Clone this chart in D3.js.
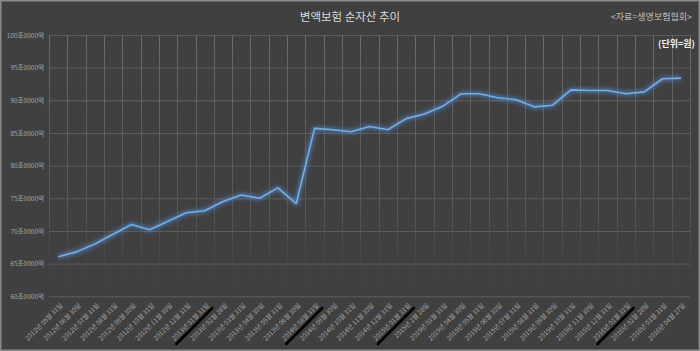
<!DOCTYPE html>
<html><head><meta charset="utf-8">
<script src="https://cdn.jsdelivr.net/npm/d3@7"></script>
<style>
html,body{margin:0;padding:0;background:#404040;}
svg{display:block;}
text{font-family:"Noto Sans CJK KR","Noto Sans",sans-serif;}
</style></head>
<body>
<svg id="c" width="700" height="351"></svg>
<script>
const categories = [
"2012년 05월 31일","2012년 06월 30일","2012년 07월 31일","2012년 08월 31일","2012년 09월 30일","2012년 10월 31일","2012년 11월 30일","2012년 12월 31일",
"2013년 01월 31일","2013년 02월 28일","2013년 03월 31일","2013년 04월 30일","2013년 05월 31일","2013년 06월 30일",
"2014년 08월 31일","2014년 09월 30일","2014년 10월 31일","2014년 11월 30일","2014년 12월 31일",
"2015년 01월 31일","2015년 2월 28일","2015년 03월 31일","2015년 04월 30일","2015년 05월 31일","2015년 06월 30일","2015년 07월 31일","2015년 08월 31일","2015년 09월 30일","2015년 10월 31일","2015년 11월 30일","2015년 12월 31일",
"2016년 01월 31일","2016년 02월 28일","2016년 03월 31일","2016년 04월 27일"];
const netAssets = [66.05,66.8,68.0,69.5,71.0,70.2,71.5,72.8,73.1,74.5,75.5,75.0,76.6,74.2,
85.7,85.5,85.2,86.0,85.5,87.2,87.9,89.1,91.0,91.0,90.4,90.1,89.0,89.25,91.6,91.5,91.5,91.0,91.3,93.3,93.4];
const yTicks = [60,65,70,75,80,85,90,95,100];
const yTickLabels = ["60조0000억","65조0000억","70조0000억","75조0000억","80조0000억","85조0000억","90조0000억","95조0000억","100조0000억"];
// labels after which a black diagonal marker stroke is drawn (between this and the next label)
const markedAfter = ["2013년 01월 31일","2014년 08월 31일","2015년 01월 31일","2016년 01월 31일"];
const titleText = "변액보험 순자산 추이";
const sourceText = "<자료=생명보험협회>";
const unitText = "(단위=원)";

(function(){
const svg = d3.select("#c");
const W = 700, H = 351;
const pL = 49, pR = 690, pT = 35, pB = 296.3;

svg.append("rect").attr("x",0).attr("y",0).attr("width",W).attr("height",H).attr("fill","#404040");
svg.append("rect").attr("x",0.75).attr("y",0.75).attr("width",W-1.5).attr("height",H-1.5)
  .attr("fill","none").attr("stroke","#8a8a8a").attr("stroke-width",1.5);

const defs = svg.append("defs");
const grad = defs.append("linearGradient").attr("id","vg").attr("gradientUnits","userSpaceOnUse")
  .attr("x1",0).attr("y1",pT).attr("x2",0).attr("y2",pB);
grad.append("stop").attr("offset","0%").attr("stop-color","#6a6a6a").attr("stop-opacity",1);
grad.append("stop").attr("offset","70%").attr("stop-color","#5a5a5a").attr("stop-opacity",0.8);
grad.append("stop").attr("offset","100%").attr("stop-color","#4a4a4a").attr("stop-opacity",0);
const glow = defs.append("filter").attr("id","glow").attr("x","-10%").attr("y","-10%").attr("width","120%").attr("height","120%");
glow.append("feGaussianBlur").attr("stdDeviation",2);

const x = d3.scaleBand().domain(categories).range([pL,pR]).paddingInner(0).paddingOuter(0);
const y = d3.scaleLinear().domain([60,100]).range([pB,pT]);
const cx = d => x(d) + x.bandwidth()/2;

// horizontal grid
const yAxis = d3.axisLeft(y).tickValues(yTicks).tickSize(-(pR-pL)).tickFormat((d,i)=>yTickLabels[i]);
const gy = svg.append("g").attr("transform",`translate(${pL},0)`).call(yAxis);
gy.select(".domain").remove();
gy.selectAll(".tick line").attr("stroke","#5c5c5c").attr("stroke-width",1);
gy.selectAll(".tick text").attr("x",-5).attr("fill","#a6a6a6").attr("font-size",6.5);

// vertical grid (band edges)
const edges = categories.map(c=>x(c)).concat([pR]);
svg.append("g").selectAll("line").data(edges).join("line")
  .attr("x1",d=>Math.round(d)+0.5).attr("x2",d=>Math.round(d)+0.5)
  .attr("y1",pT).attr("y2",pB).attr("stroke","url(#vg)").attr("stroke-width",1);

// x labels
const gx = svg.append("g");
gx.selectAll("text").data(categories).join("text")
  .attr("transform",d=>`translate(${cx(d)+5},${306}) rotate(-45)`)
  .attr("text-anchor","end").attr("fill","#a6a6a6").attr("font-size",6.5)
  .text(d=>d);

// marker strokes
svg.append("g").selectAll("line").data(markedAfter).join("line")
  .each(function(d){
    const i = categories.indexOf(d);
    const mx = (cx(categories[i]) + cx(categories[i+1]))/2 - 1.5;
    d3.select(this).attr("x1",mx).attr("y1",308).attr("x2",mx-36).attr("y2",344);
  })
  .attr("stroke","#000").attr("stroke-width",2.6).attr("stroke-linecap","round");

// line
const line = d3.line().x((d,i)=>cx(categories[i])).y(d=>y(d));
svg.append("path").datum(netAssets).attr("d",line).attr("fill","none")
  .attr("stroke","#4f8fd8").attr("stroke-width",4).attr("stroke-opacity",0.7).attr("filter","url(#glow)")
  .attr("stroke-linejoin","round");
svg.append("path").datum(netAssets).attr("d",line).attr("fill","none")
  .attr("stroke","#78acdf").attr("stroke-width",1.6).attr("stroke-linejoin","round");

// titles
svg.append("text").attr("x",350).attr("y",21).attr("text-anchor","middle")
  .attr("fill","#d9d9d9").attr("font-size",11.5).text(titleText);
svg.append("text").attr("x",692).attr("y",20).attr("text-anchor","end")
  .attr("fill","#bfbfbf").attr("font-size",9).text(sourceText);
svg.append("text").attr("x",695).attr("y",46.5).attr("text-anchor","end")
  .attr("fill","#f2f2f2").attr("font-size",9).attr("font-weight","bold").text(unitText);
})();
</script>
</body></html>
